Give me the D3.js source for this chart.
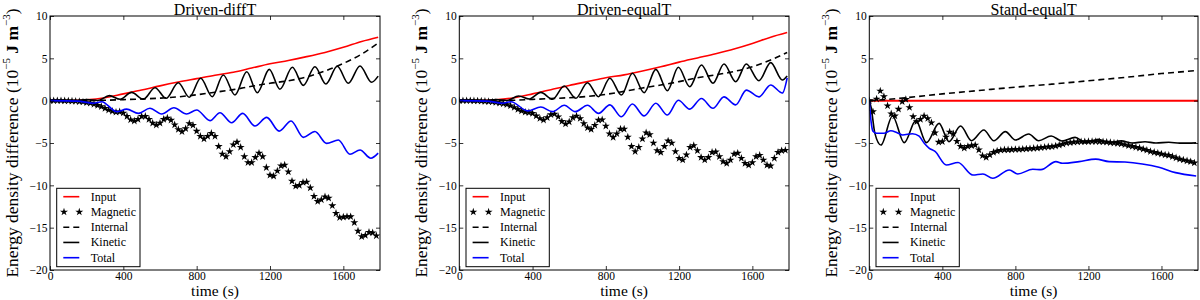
<!DOCTYPE html>
<html>
<head>
<meta charset="utf-8">
<script src="https://cdn.jsdelivr.net/npm/d3@7"></script>
<style>
  body { margin: 0; background: #fff; }
  svg { display: block; }
  text { font-family: "Liberation Serif", "Times New Roman", serif; fill: #000; }
</style>
</head>
<body>
<svg id="chart" width="1200" height="300"></svg>
<script>
const panelTitles = ['Driven-diffT', 'Driven-equalT', 'Stand-equalT']
const legendNames = ['Input', 'Magnetic', 'Internal', 'Kinetic', 'Total']
const xTicks = [0, 400, 800, 1200, 1600]
const yTicks = [-20, -15, -10, -5, 0, 5, 10]

// [time (s), energy (1e-5 J m^-3)]
const input1 = [[0,0],[100,0.02],[200,0.1],[300,0.35],[400,0.8],[500,1.25],[600,1.75],[700,2.2],[800,2.6],[900,3.0],[1000,3.35],[1100,3.85],[1200,4.35],[1300,4.75],[1400,5.2],[1500,5.7],[1600,6.3],[1700,7.0],[1790,7.5]]
const internal1 = [[0,0],[200,0],[300,0.05],[400,0.12],[500,0.2],[600,0.3],[700,0.45],[800,0.7],[900,1.0],[1000,1.3],[1100,1.7],[1200,2.05],[1300,2.35],[1400,2.8],[1500,3.5],[1600,4.4],[1700,5.5],[1790,6.8]]
const kinetic1 = [[0,0],[100,0],[150,0.04],[200,0.12],[260,0.02],[324,0.59],[382,0.16],[445,0.98],[509,0.16],[573,1.53],[633,0.28],[700,2.12],[760,0.4],[822,2.64],[885,0.47],[945,3.03],[1009,0.67],[1073,3.42],[1131,0.94],[1196,3.7],[1254,1.34],[1322,3.94],[1382,1.81],[1445,4.01],[1505,1.97],[1567,4.06],[1627,2.05],[1691,4.09],[1754,2.17],[1790,2.9]]
const total1 = [[0,0],[150,-0.05],[236,-0.3],[282,-0.12],[364,-1.3],[418,-1.0],[482,-1.5],[545,-0.9],[609,-1.57],[676,-0.83],[745,-1.57],[800,-1.1],[873,-2.36],[927,-1.42],[991,-2.6],[1051,-1.5],[1118,-3.0],[1182,-1.97],[1250,-3.6],[1315,-2.4],[1382,-4.33],[1445,-3.65],[1509,-5.04],[1573,-4.65],[1636,-6.33],[1691,-5.83],[1750,-6.8],[1790,-6.2]]

const input2 = [[0,0],[100,0.02],[200,0.1],[300,0.35],[400,0.8],[500,1.3],[600,1.8],[700,2.25],[800,2.7],[900,3.05],[1000,3.5],[1100,4.0],[1200,4.55],[1300,5.05],[1400,5.55],[1500,6.1],[1600,6.75],[1700,7.5],[1790,8.05]]
const internal2 = [[0,0],[200,0],[300,0.05],[400,0.15],[500,0.25],[600,0.35],[700,0.5],[800,0.75],[900,1.1],[1000,1.5],[1100,1.85],[1200,2.25],[1300,2.7],[1400,3.05],[1500,3.45],[1600,4.0],[1700,4.8],[1790,5.7]]
const kinetic2 = [[0,0],[100,0],[150,0.04],[200,0.12],[260,0.02],[324,0.55],[382,0.2],[445,0.98],[509,0.16],[573,1.73],[636,0.28],[700,2.12],[760,0.47],[822,2.64],[885,0.67],[945,3.23],[1009,0.94],[1073,3.7],[1136,1.18],[1196,3.94],[1258,1.65],[1322,4.21],[1385,2.05],[1445,4.33],[1509,2.24],[1567,4.33],[1636,2.36],[1700,4.49],[1764,2.44],[1790,2.9]]
const total2 = [[0,0],[150,-0.05],[236,-0.3],[282,-0.12],[373,-1.2],[445,-0.75],[509,-1.3],[573,-0.55],[633,-1.3],[700,-0.55],[760,-1.5],[822,-0.5],[885,-1.9],[945,-0.4],[1009,-1.8],[1073,-0.3],[1136,-1.7],[1196,0.05],[1258,-1.0],[1322,0.25],[1385,-0.9],[1445,0.45],[1509,-0.5],[1567,1.25],[1636,0.45],[1700,1.85],[1764,0.9],[1790,2.7]]

const input3 = [[0,0],[1800,0]]
const internal3 = [[0,0],[100,0.15],[200,0.35],[400,0.8],[600,1.2],[800,1.6],[1000,1.95],[1200,2.35],[1400,2.75],[1600,3.2],[1790,3.55]]
const kinetic3 = [[0,0],[10,-0.8],[30,-3.8],[64,-5.24],[127,-1.81],[191,-4.96],[255,-2.36],[313,-4.96],[382,-2.68],[436,-4.84],[500,-2.99],[560,-4.73],[627,-3.46],[682,-4.73],[745,-3.66],[800,-4.65],[873,-3.94],[927,-4.73],[996,-4.17],[1055,-4.76],[1127,-4.33],[1182,-4.96],[1254,-4.56],[1310,-4.95],[1380,-4.75],[1440,-5.0],[1510,-4.85],[1570,-5.0],[1640,-4.92],[1700,-5.02],[1790,-4.98]]
const total3 = [[0,0],[10,-2.5],[20,-3.6],[40,-3.85],[80,-3.85],[118,-3.55],[150,-3.75],[182,-4.05],[236,-3.9],[273,-4.2],[300,-5.0],[327,-5.6],[360,-6.0],[422,-7.6],[486,-7.3],[567,-8.78],[622,-8.66],[676,-9.17],[767,-8.19],[813,-8.66],[895,-8.1],[940,-8.15],[1022,-7.2],[1058,-7.4],[1149,-7.2],[1240,-6.9],[1313,-7.2],[1400,-7.25],[1495,-7.48],[1586,-7.87],[1677,-8.5],[1790,-8.9]]

// magnetic is sampled every 20 s (0 .. 1780)
const magTimes = d3.range(0, 1800, 20)
const magnetic1 = [0,0,0,0,-0.02,-0.03,-0.05,-0.07,-0.1,-0.15,
  -0.22,-0.3,-0.42,-0.55,-0.7,-0.9,-1.1,-1.25,-1.35,-1.32,
  -1.45,-1.85,-2.25,-2.4,-2.2,-1.85,-1.85,-2.2,-2.65,-2.87,
  -2.65,-2.2,-2.05,-2.3,-2.85,-3.4,-3.66,-3.3,-2.7,-2.9,
  -3.6,-4.2,-4.5,-4.2,-3.85,-4.2,-5.4,-6.3,-6.6,-6.0,
  -5.2,-4.9,-5.5,-6.6,-7.3,-7.3,-6.7,-6.2,-6.6,-7.9,
  -8.8,-8.9,-8.3,-7.7,-7.6,-8.4,-9.5,-10.1,-10.0,-9.65,
  -9.6,-10.3,-11.3,-11.9,-11.7,-11.35,-11.5,-12.4,-13.3,-13.8,
  -13.75,-13.7,-13.7,-14.4,-15.4,-16.05,-15.9,-15.55,-15.6,-15.95]
const magnetic2 = [0,0,0,0,-0.02,-0.03,-0.05,-0.08,-0.1,-0.15,
  -0.2,-0.28,-0.36,-0.45,-0.6,-0.8,-1.02,-1.2,-1.35,-1.4,
  -1.5,-1.8,-2.1,-2.28,-2.0,-1.65,-1.57,-1.9,-2.45,-2.75,
  -2.5,-2.0,-1.81,-2.1,-2.7,-3.2,-3.39,-2.9,-2.3,-2.25,
  -3.0,-3.9,-4.33,-3.9,-3.35,-3.35,-4.3,-5.4,-6.0,-5.5,
  -4.5,-3.8,-4.0,-5.0,-5.9,-6.1,-5.4,-4.75,-5.0,-6.0,
  -6.8,-7.0,-6.4,-5.5,-5.3,-5.9,-6.7,-7.0,-6.7,-6.1,
  -6.05,-6.6,-7.2,-7.4,-7.0,-6.3,-6.2,-6.8,-7.4,-7.6,
  -7.3,-6.6,-6.45,-7.0,-7.6,-7.7,-6.8,-6.1,-5.9,-5.85]
const magnetic3 = [0,-1.3,0.2,1.15,0.5,-0.6,-1.55,-1.8,-1.0,-0.1,
  0.15,-0.8,-1.89,-2.48,-2.2,-1.81,-2.1,-2.6,-3.8,-4.9,
  -4.84,-4.3,-3.7,-3.9,-4.8,-5.4,-5.6,-5.4,-5.3,-5.25,
  -5.8,-6.5,-6.69,-6.4,-6.1,-5.95,-5.85,-5.8,-5.8,-5.78,
  -5.75,-5.75,-5.72,-5.7,-5.67,-5.63,-5.6,-5.55,-5.5,-5.45,
  -5.43,-5.35,-5.25,-5.12,-5.0,-4.95,-4.9,-4.87,-4.85,-4.84,
  -4.83,-4.82,-4.82,-4.84,-4.86,-4.9,-4.95,-5.0,-5.04,-5.1,
  -5.2,-5.3,-5.4,-5.5,-5.6,-5.72,-5.85,-6.0,-6.1,-6.2,
  -6.3,-6.4,-6.45,-6.6,-6.75,-6.9,-7.0,-7.1,-7.2,-7.35]

// panel layout
let plotTop = 16,
    plotBottom = 270
let panels = [
  { title: panelTitles[0], left: 50, right: 380, input: input1, magnetic: magnetic1, internal: internal1, kinetic: kinetic1, total: total1 },
  { title: panelTitles[1], left: 459.3, right: 789, input: input2, magnetic: magnetic2, internal: internal2, kinetic: kinetic2, total: total2 },
  { title: panelTitles[2], left: 869.3, right: 1198, input: input3, magnetic: magnetic3, internal: internal3, kinetic: kinetic3, total: total3 }
]

const svg = d3.select('#chart')
const y = d3.scaleLinear().domain([-20, 10]).range([plotBottom, plotTop])
const fmt = d => d < 0 ? '\u2212' + Math.abs(d) : String(d)
const star = d3.symbol().type(d3.symbolStar).size(20)

panels.forEach((p, i) => {
  let x = d3.scaleLinear().domain([0, 1800]).range([p.left, p.right])
  let g = svg.append('g')

  g.append('clipPath').attr('id', 'clip' + i)
    .append('rect')
    .attr('x', p.left).attr('y', plotTop)
    .attr('width', p.right - p.left).attr('height', plotBottom - plotTop)

  let line = d3.line()
    .x(d => x(d[0]))
    .y(d => y(d[1]))
    .curve(d3.curveMonotoneX)

  let plot = g.append('g').attr('clip-path', `url(#clip${i})`)

  // Input
  plot.append('path').datum(p.input)
    .attr('d', line).attr('fill', 'none')
    .attr('stroke', '#ff0000').attr('stroke-width', i == 2 ? 2 : 1.6)

  // Magnetic stars
  plot.selectAll('.mag')
    .data(p.magnetic.map((v, k) => [magTimes[k], v]))
    .join('path')
    .attr('class', 'mag')
    .attr('transform', d => `translate(${x(d[0])},${y(d[1])})`)
    .attr('d', star)
    .attr('fill', '#000')

  // Internal
  plot.append('path').datum(p.internal)
    .attr('d', line).attr('fill', 'none')
    .attr('stroke', '#000').attr('stroke-width', 1.6)
    .attr('stroke-dasharray', '6,4')

  // Kinetic
  plot.append('path').datum(p.kinetic)
    .attr('d', line).attr('fill', 'none')
    .attr('stroke', '#000').attr('stroke-width', 1.6)

  // Total
  plot.append('path').datum(p.total)
    .attr('d', line).attr('fill', 'none')
    .attr('stroke', '#0000ff').attr('stroke-width', 1.6)

  // axes, ticks pointing inward on all four sides
  let bottomAxis = g.append('g')
    .attr('transform', `translate(0,${plotBottom})`)
    .call(d3.axisBottom(x).tickValues(xTicks).tickSize(-4).tickPadding(2).tickFormat(fmt))
  let topAxis = g.append('g')
    .attr('transform', `translate(0,${plotTop})`)
    .call(d3.axisTop(x).tickValues(xTicks).tickSize(-4).tickFormat(''))
  let leftAxis = g.append('g')
    .attr('transform', `translate(${p.left},0)`)
    .call(d3.axisLeft(y).tickValues(yTicks).tickSize(-4).tickPadding(2.5).tickFormat(fmt))
  let rightAxis = g.append('g')
    .attr('transform', `translate(${p.right},0)`)
    .call(d3.axisRight(y).tickValues(yTicks).tickSize(-4).tickFormat(''))

  ;[bottomAxis, topAxis, leftAxis, rightAxis].forEach(a => {
    a.select('.domain').remove()
    a.selectAll('line').attr('stroke', '#000').attr('stroke-width', 0.8)
    a.selectAll('text')
      .attr('font-family', '"Liberation Serif", serif')
      .attr('font-size', 11.5)
      .attr('fill', '#333')
  })

  // frame
  g.append('rect')
    .attr('x', p.left).attr('y', plotTop)
    .attr('width', p.right - p.left).attr('height', plotBottom - plotTop)
    .attr('fill', 'none').attr('stroke', '#000').attr('stroke-width', 1)

  // title
  g.append('text')
    .attr('x', (p.left + p.right) / 2).attr('y', 14.5)
    .attr('text-anchor', 'middle')
    .attr('font-size', 16)
    .text(p.title)

  // x label
  g.append('text')
    .attr('x', (p.left + p.right) / 2).attr('y', 296.3)
    .attr('text-anchor', 'middle')
    .attr('font-size', 15.5)
    .text('time (s)')

  // y label
  let yl = g.append('text')
    .attr('transform', `translate(${p.left - 38},${(plotTop + plotBottom) / 2}) rotate(-90)`)
    .attr('text-anchor', 'middle')
    .attr('dominant-baseline', 'central')
    .attr('font-size', 17.5)
  yl.append('tspan').text('Energy density difference (10')
  yl.append('tspan').attr('dy', -6).attr('font-size', 11).text('\u22125')
  yl.append('tspan').attr('dy', 6).text(' ')
  yl.append('tspan').attr('font-weight', 'bold').text('J m')
  yl.append('tspan').attr('dy', -6).attr('font-size', 11).text('\u22123')
  yl.append('tspan').attr('dy', 6).text(')')

  // legend
  let lx = p.left + 6.7,
      ly = 188.3
  let legend = g.append('g')
  legend.append('rect')
    .attr('x', lx).attr('y', ly)
    .attr('width', 83.3).attr('height', 78.4)
    .attr('fill', '#fff').attr('stroke', '#000').attr('stroke-width', 1)

  legendNames.forEach((name, k) => {
    let cy = ly + 8.4 + k * 15.25
    if (name == 'Magnetic') {
      ;[lx + 7.3, lx + 22.6].forEach(sx => {
        legend.append('path')
          .attr('transform', `translate(${sx},${cy})`)
          .attr('d', star).attr('fill', '#000')
      })
    } else {
      legend.append('line')
        .attr('x1', lx + 6.6).attr('x2', lx + 22.6)
        .attr('y1', cy).attr('y2', cy)
        .attr('stroke', name == 'Input' ? '#ff0000' : name == 'Total' ? '#0000ff' : '#000')
        .attr('stroke-width', 1.6)
        .attr('stroke-dasharray', name == 'Internal' ? '6,4' : null)
    }
    legend.append('text')
      .attr('x', lx + 34).attr('y', cy)
      .attr('dominant-baseline', 'central')
      .attr('font-size', 12)
      .text(name)
  })
})
</script>
</body>
</html>
